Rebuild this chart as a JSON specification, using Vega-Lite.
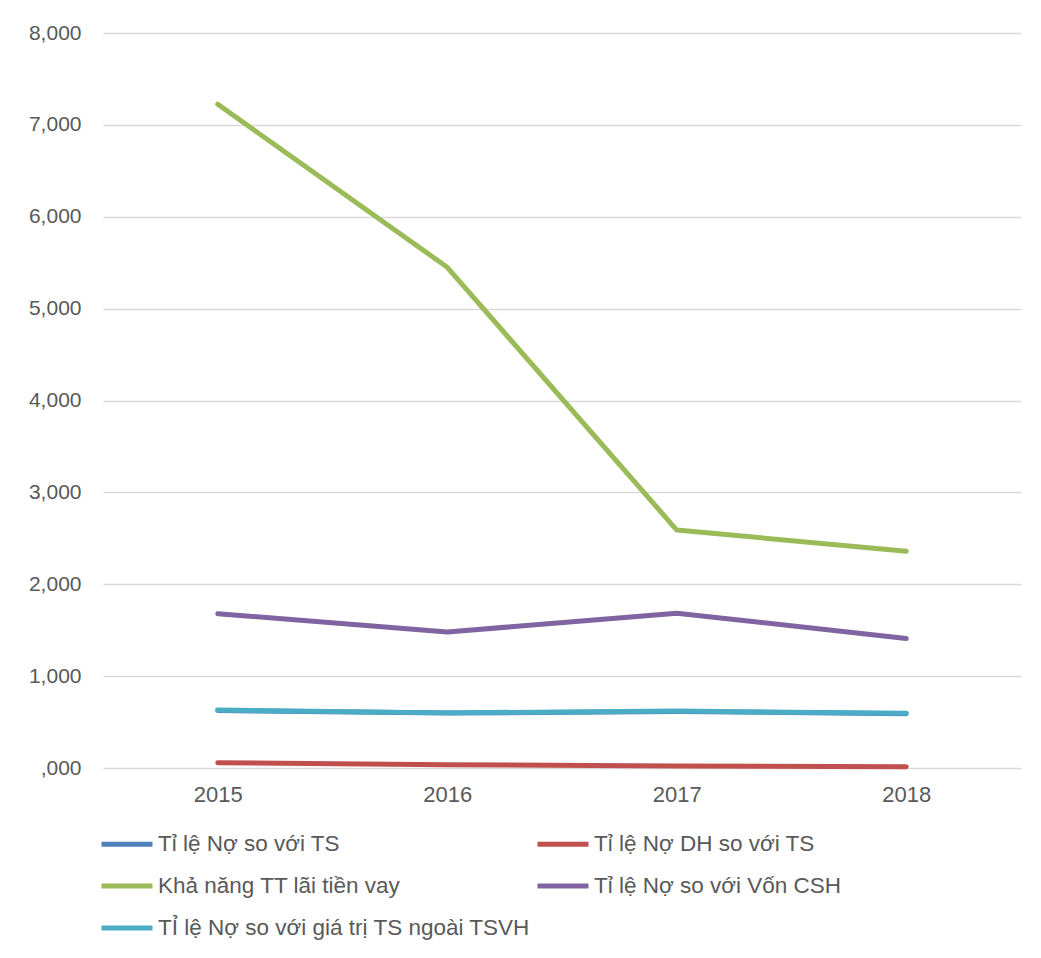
{
  "$schema": "https://vega.github.io/schema/vega-lite/v6.json",
  "autosize": {"type": "none"},
  "width": 918,
  "height": 735,
  "padding": {"left": 103, "top": 33, "right": 20, "bottom": 190},
  "background": "white",
  "config": {
    "font": "Liberation Sans",
    "view": {"stroke": null},
    "axis": {
      "labelFont": "Liberation Sans",
      "labelFontSize": 21,
      "labelColor": "#595959",
      "title": null,
      "ticks": false,
      "domain": false
    },
    "legend": {
      "labelFont": "Liberation Sans",
      "labelFontSize": 22.5,
      "labelColor": "#595959",
      "labelLimit": 0
    }
  },
  "data": {
    "values": [
      {"year": "2015", "series": "Tỉ lệ Nợ so với TS", "value": 0.625},
      {"year": "2016", "series": "Tỉ lệ Nợ so với TS", "value": 0.598},
      {"year": "2017", "series": "Tỉ lệ Nợ so với TS", "value": 0.615},
      {"year": "2018", "series": "Tỉ lệ Nợ so với TS", "value": 0.59},
      {"year": "2015", "series": "Tỉ lệ Nợ DH so với TS", "value": 0.058},
      {"year": "2016", "series": "Tỉ lệ Nợ DH so với TS", "value": 0.035},
      {"year": "2017", "series": "Tỉ lệ Nợ DH so với TS", "value": 0.022},
      {"year": "2018", "series": "Tỉ lệ Nợ DH so với TS", "value": 0.014},
      {"year": "2015", "series": "Khả năng TT lãi tiền vay", "value": 7.225},
      {"year": "2016", "series": "Khả năng TT lãi tiền vay", "value": 5.45},
      {"year": "2017", "series": "Khả năng TT lãi tiền vay", "value": 2.59},
      {"year": "2018", "series": "Khả năng TT lãi tiền vay", "value": 2.36},
      {"year": "2015", "series": "Tỉ lệ Nợ so với Vốn CSH", "value": 1.68},
      {"year": "2016", "series": "Tỉ lệ Nợ so với Vốn CSH", "value": 1.48},
      {"year": "2017", "series": "Tỉ lệ Nợ so với Vốn CSH", "value": 1.685},
      {"year": "2018", "series": "Tỉ lệ Nợ so với Vốn CSH", "value": 1.41},
      {"year": "2015", "series": "TỈ lệ Nợ so với giá trị TS ngoài TSVH", "value": 0.63},
      {"year": "2016", "series": "TỈ lệ Nợ so với giá trị TS ngoài TSVH", "value": 0.60},
      {"year": "2017", "series": "TỈ lệ Nợ so với giá trị TS ngoài TSVH", "value": 0.62},
      {"year": "2018", "series": "TỈ lệ Nợ so với giá trị TS ngoài TSVH", "value": 0.595}
    ]
  },
  "encoding": {
    "x": {
      "field": "year",
      "type": "ordinal",
      "scale": {"type": "point", "padding": 0.5},
      "axis": {"labelAngle": 0, "labelPadding": 16, "grid": false, "labelFontSize": 22}
    },
    "y": {
      "field": "value",
      "type": "quantitative",
      "scale": {"domain": [0, 8], "nice": false},
      "axis": {
        "values": [0, 1, 2, 3, 4, 5, 6, 7, 8],
        "grid": true,
        "gridColor": "#D9D9D9",
        "gridWidth": 1.3,
        "labelPadding": 22,
        "labelExpr": "datum.value == 0 ? ',000' : replace(format(datum.value, '.3f'), '.', ',')"
      }
    },
    "color": {
      "field": "series",
      "type": "nominal",
      "scale": {
        "domain": [
          "Tỉ lệ Nợ so với TS",
          "Tỉ lệ Nợ DH so với TS",
          "Khả năng TT lãi tiền vay",
          "Tỉ lệ Nợ so với Vốn CSH",
          "TỈ lệ Nợ so với giá trị TS ngoài TSVH"
        ],
        "range": ["#4F81BD", "#C0504D", "#9BBB59", "#8064A2", "#4BACC6"]
      },
      "legend": {
        "title": null,
        "orient": "none",
        "legendX": -4,
        "legendY": 783,
        "columns": 2,
        "direction": "horizontal",
        "symbolType": "stroke",
        "symbolSize": 2601,
        "symbolStrokeWidth": 5,
        "labelOffset": 3,
        "columnPadding": -4,
        "rowPadding": 2
      }
    }
  },
  "layer": [
    {
      "transform": [{"filter": "datum.series == 'Tỉ lệ Nợ so với TS'"}],
      "mark": {"type": "line", "strokeWidth": 5, "strokeCap": "round", "strokeJoin": "round"}
    },
    {
      "transform": [{"filter": "datum.series != 'Tỉ lệ Nợ so với TS'"}],
      "mark": {"type": "line", "strokeWidth": 5, "strokeCap": "round", "strokeJoin": "round"}
    }
  ]
}
